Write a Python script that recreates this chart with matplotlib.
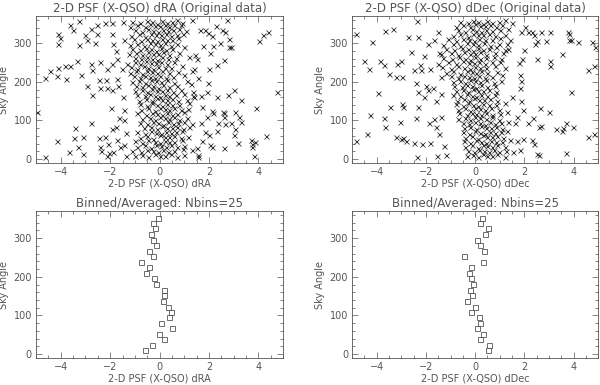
import numpy as np
import matplotlib
matplotlib.use('Agg')
import matplotlib.pyplot as plt
from matplotlib.ticker import MultipleLocator

# outliers, dRA panel
out_ra_x = [-4.95, -4.64, -4.64, -4.45, -4.17, -4.13, -3.82, -3.62, -3.77, -4.11, -4.02, -4.11, -4.15,
            -3.62, -3.52, -3.25, -3.36, -3.26, -3.17, -3.41, -3.47, -3.32, -3.68, -3.11, -3.08,
            -3.0, -2.95, -2.77, -2.95, -2.74, -2.77, -2.74, -2.78, -2.55, -2.61, -2.54, -2.40,
            -2.46, -2.43, -2.46, -2.43, -2.39, -2.21, -2.18, -2.13, -2.11, -2.22, -2.09, -2.05, -2.13,
            -1.91, -1.94, -1.88, -1.91, -1.92, -1.95, -1.90, -1.92, -1.77, -1.72, -1.72, -1.68, -1.64,
            -1.75, -1.71, -1.61, -1.47, -1.45, -1.54, -1.47, -1.42, -1.45, -1.34, -1.45, -1.36,
            1.30, 1.64, 1.83, 1.76, 1.96, 2.11, 2.16, 2.05, 2.01, 2.31, 2.28, 2.51, 2.46, 2.59, 2.66,
            2.73, 2.80, 2.82, 2.89, 1.43, 1.50, 1.39, 1.56, 1.34, 1.39, 1.69, 1.91, 1.96, 2.31, 2.78,
            3.01, 3.29, 1.73, 2.10, 2.18, 1.91, 1.66, 2.55, 2.59, 2.62, 3.03, 3.23, 3.28, 2.35, 2.65,
            2.89, 2.31, 3.03, 3.00, 3.19, 2.01, 2.10, 2.05, 1.73, 1.50, 1.56, 1.32, 1.56, 1.83, 2.62,
            3.71, 3.74, 3.85, 3.74, 3.81, 4.32, 3.91, 4.73, 4.01, 4.19, 4.39]
out_ra_y = [122, 6, 210, 229, 216, 236, 241, 240, 208, 325, 314, 299, 46,
            347, 335, 357, 254, 295, 217, 81, 54, 31, 18, 14, 56,
            322, 307, 337, 189, 230, 247, 166, 94, 346, 301, 324, 252,
            204, 184, 54, 32, 22, 352, 204, 234, 185, 58, 40, 16, 9,
            352, 325, 299, 246, 178, 132, 18, 77, 280, 260, 208, 189, 105,
            82, 49, 30, 356, 309, 234, 161, 127, 101, 68, 36, 8,
            359, 335, 334, 292, 327, 318, 294, 275, 234, 243, 344, 335, 301, 256, 328,
            359, 312, 290, 289, 269, 258, 234, 211, 174, 161, 163, 174, 197, 161, 166,
            178, 153, 135, 124, 120, 109, 94, 122, 120, 109, 122, 109, 97, 92, 91,
            94, 73, 77, 62, 41, 62, 32, 35, 47, 28, 10, 23, 6, 71, 28,
            49, 39, 45, 32, 9, 59, 133, 174, 306, 322, 329]

# dense core, dRA panel
core_ra_x = [-1.1, -0.8, -0.5, -0.3, -0.1, 0.1, 0.3, 0.5, 0.7, 0.9,
             -1.2, -0.9, -0.6, -0.4, -0.2, 0.0, 0.2, 0.4, 0.6, 0.85,
             -1.0, -0.7, -0.45, -0.25, -0.05, 0.15, 0.35, 0.55, 0.8, 1.05,
             -1.15, -0.85, -0.6, -0.35, -0.15, 0.05, 0.25, 0.45, 0.7, 0.95,
             -1.05, -0.75, -0.5, -0.3, -0.1, 0.1, 0.3, 0.5, 0.75,
             -1.2, -0.9, -0.65, -0.4, -0.2, 0.0, 0.2, 0.45, 0.7,
             -1.1, -0.8, -0.55, -0.35, -0.15, 0.05, 0.25, 0.5, 1.0,
             -1.25, -0.95, -0.7, -0.45, -0.25, -0.05, 0.15, 0.4, 0.8,
             -1.0, -0.75, -0.5, -0.3, -0.1, 0.1, 0.35, 0.65, 1.2,
             -1.3, -1.0, -0.8, -0.55, -0.35, -0.15, 0.05, 0.3, 0.6,
             -1.15, -0.9, -0.65, -0.45, -0.25, -0.05, 0.2, 0.45, 0.9,
             -1.2, -0.95, -0.7, -0.5, -0.3, -0.1, 0.1, 0.4, 0.75, 1.3,
             -1.05, -0.8, -0.6, -0.4, -0.2, 0.0, 0.25, 0.55, 1.0,
             -1.1, -0.85, -0.6, -0.35, -0.15, 0.05, 0.3, 0.6, 1.1,
             -0.95, -0.7, -0.45, -0.25, -0.05, 0.15, 0.4, 0.7, 1.25,
             -1.0, -0.7, -0.5, -0.3, -0.1, 0.1, 0.3, 0.55, 0.85,
             -0.9, -0.6, -0.4, -0.2, 0.0, 0.2, 0.4, 0.65, 1.0, 1.35,
             -0.85, -0.55, -0.3, -0.1, 0.1, 0.3, 0.5, 0.75, 1.1,
             -0.8, -0.5, -0.3, -0.1, 0.1, 0.3, 0.5, 0.8, 1.2,
             -0.75, -0.45, -0.2, 0.0, 0.2, 0.4, 0.6, 0.85, 1.15,
             -0.9, -0.55, -0.3, -0.1, 0.1, 0.3, 0.5, 0.7, 1.0,
             -0.7, -0.4, -0.2, 0.0, 0.2, 0.4, 0.6, 0.8, 1.1,
             -0.8, -0.5, -0.25, -0.05, 0.15, 0.35, 0.55, 0.75, 1.0, 1.3,
             -0.65, -0.35, -0.1, 0.1, 0.3, 0.5, 0.7, 0.95, 1.2,
             -0.9, -0.6, -0.35, -0.15, 0.05, 0.25, 0.45, 0.65, 0.9,
             -0.8, -0.5, -0.25, 0.0, 0.2, 0.4, 0.6, 0.85, 1.15,
             -1.0, -0.7, -0.45, -0.2, 0.0, 0.2, 0.4, 0.6, 0.9,
             -0.9, -0.6, -0.35, -0.15, 0.05, 0.25, 0.45, 0.7, 1.0,
             -1.1, -0.75, -0.5, -0.25, -0.05, 0.15, 0.35, 0.6, 0.95,
             -1.0, -0.7, -0.45, -0.2, 0.0, 0.2, 0.45, 0.7, 1.0]
core_ra_y = [356, 352, 358, 354, 351, 357, 353, 355, 359, 353,
             343, 347, 341, 349, 345, 344, 348, 342, 346, 347,
             334, 330, 336, 332, 329, 335, 331, 333, 337, 331,
             319, 323, 317, 325, 321, 320, 324, 318, 322, 323,
             310, 306, 312, 308, 305, 311, 307, 309, 313,
             295, 299, 293, 301, 297, 296, 300, 294, 298,
             286, 282, 288, 284, 281, 287, 283, 285, 289,
             271, 275, 269, 277, 273, 272, 276, 270, 274,
             262, 258, 264, 260, 257, 263, 259, 261, 265,
             247, 251, 245, 253, 249, 248, 252, 246, 250,
             238, 234, 240, 236, 233, 239, 235, 237, 241,
             223, 227, 221, 229, 225, 224, 228, 222, 226, 227,
             214, 210, 216, 212, 209, 215, 211, 213, 217,
             199, 203, 197, 205, 201, 200, 204, 198, 202,
             190, 186, 192, 188, 185, 191, 187, 189, 193,
             175, 179, 173, 181, 177, 176, 180, 174, 178,
             166, 162, 168, 164, 161, 167, 163, 165, 169, 163,
             151, 155, 149, 157, 153, 152, 156, 150, 154,
             142, 138, 144, 140, 137, 143, 139, 141, 145,
             127, 131, 125, 133, 129, 128, 132, 126, 130,
             118, 114, 120, 116, 113, 119, 115, 117, 121,
             103, 107, 101, 109, 105, 104, 108, 102, 106,
             94, 90, 96, 92, 89, 95, 91, 93, 97, 91,
             79, 83, 77, 85, 81, 80, 84, 78, 82,
             70, 66, 72, 68, 65, 71, 67, 69, 73,
             55, 59, 53, 61, 57, 56, 60, 54, 58,
             46, 42, 48, 44, 41, 47, 43, 45, 49,
             31, 35, 29, 37, 33, 32, 36, 30, 34,
             22, 18, 24, 20, 17, 23, 19, 21, 25,
             7, 11, 5, 13, 9, 8, 12, 6, 10]

# outliers, dDec panel
out_dec_x = [-4.85, -4.85, -4.54, -4.31, -4.29, -4.18, -4.39, -3.95, -3.89, -3.70, -3.65, -3.35,
             -3.48, -3.70, -3.67, -3.50, -3.22, -2.99, -3.16, -3.02, -3.07, -2.99, -2.94, -3.22,
             -3.02, -2.82, -2.93, -2.72, -2.59, -2.48, -2.34, -2.38, -2.41, -2.34, -2.34, -2.41,
             -2.48, -2.38, -2.26, -2.20, -2.16, -2.07, -2.07, -2.00, -1.90, -1.82, -1.90, -1.86,
             -1.85, -1.66, -1.73, -1.59, -1.66, -1.59, -1.55, -1.50, -1.46, -1.39, -1.41, -1.39,
             -1.46, -1.28, -1.17,
             1.33, 1.50, 1.77, 1.81, 1.81, 1.88, 1.85, 1.95, 1.85, 2.01, 2.15, 2.29, 2.38, 2.42,
             2.50, 2.69, 2.87, 3.06, 1.90, 1.97, 1.69, 1.63, 2.15, 2.33, 2.65, 2.58, 2.69, 2.50,
             3.04, 3.04, 3.51, 3.78, 3.82, 3.91, 4.19, 3.82, 2.50, 2.58, 2.99, 3.28, 3.55, 3.52,
             3.71, 3.96, 3.89, 3.69, 1.95, 2.29, 2.39, 1.70, 1.81, 1.54, 4.73, 4.87, 4.57, 4.82,
             4.60, 4.83]
out_dec_y = [325, 47, 253, 232, 114, 303, 64, 172, 254, 244, 331, 338,
             134, 105, 84, 220, 213, 213, 247, 253, 97, 142, 135, 56,
             53, 46, 54, 315, 276, 230, 316, 358, 196, 174, 135, 107,
             41, 6, 244, 230, 39, 266, 161, 189, 299, 234, 180, 92,
             42, 308, 185, 149, 104, 82, 9, 329, 275, 213, 168, 108,
             66, 34, 10,
             286, 161, 249, 217, 183, 203, 150, 127, 329, 342, 329, 328, 321, 299,
             306, 329, 305, 329, 260, 282, 109, 92, 94, 105, 131, 84, 86, 258,
             253, 241, 273, 329, 325, 308, 303, 308, 13, 10, 122, 77, 79, 73,
             93, 84, 174, 16, 51, 49, 39, 46, 23, 18, 303, 289, 230, 241,
             56, 66]

# dense core, dDec panel
core_dec_x = [-0.6, -0.3, -0.1, 0.1, 0.3, 0.5, 0.7, 0.95, 1.2, 1.5,
              -0.8, -0.5, -0.2, 0.0, 0.2, 0.4, 0.6, 0.85, 1.1,
              -0.7, -0.4, -0.15, 0.05, 0.25, 0.45, 0.7, 1.0, 1.35,
              -0.9, -0.6, -0.3, -0.1, 0.1, 0.3, 0.55, 0.8, 1.2,
              -1.1, -0.8, -0.5, -0.25, -0.05, 0.15, 0.4, 0.7, 1.0, 1.4,
              -1.3, -0.9, -0.6, -0.35, -0.1, 0.1, 0.35, 0.6, 0.95, 1.3,
              -1.2, -0.85, -0.55, -0.3, -0.1, 0.1, 0.3, 0.55, 0.85, 1.2,
              -1.4, -1.0, -0.7, -0.45, -0.2, 0.0, 0.2, 0.45, 0.8, 1.15,
              -1.3, -0.95, -0.65, -0.4, -0.2, 0.0, 0.2, 0.45, 0.75, 1.05,
              -1.5, -1.1, -0.8, -0.5, -0.25, -0.05, 0.15, 0.4, 0.7, 1.0,
              -1.35, -1.0, -0.7, -0.45, -0.2, 0.0, 0.2, 0.45, 0.8, 1.2,
              -1.2, -0.9, -0.6, -0.35, -0.15, 0.05, 0.25, 0.5, 0.9,
              -1.0, -0.7, -0.45, -0.25, -0.05, 0.15, 0.4, 0.7, 1.1,
              -0.9, -0.6, -0.4, -0.2, 0.0, 0.2, 0.45, 0.75, 1.05,
              -0.85, -0.55, -0.35, -0.15, 0.05, 0.25, 0.5, 0.8,
              -0.8, -0.5, -0.3, -0.1, 0.1, 0.3, 0.55, 0.85,
              -0.9, -0.6, -0.35, -0.15, 0.05, 0.25, 0.5, 0.8,
              -0.75, -0.45, -0.25, -0.05, 0.15, 0.35, 0.6, 0.9,
              -0.8, -0.5, -0.3, -0.1, 0.1, 0.3, 0.55, 0.85, 1.2,
              -0.7, -0.4, -0.2, 0.0, 0.2, 0.4, 0.65, 0.95,
              -0.65, -0.35, -0.15, 0.05, 0.25, 0.45, 0.7, 1.0, 1.3,
              -0.7, -0.4, -0.2, 0.0, 0.2, 0.45, 0.7, 0.95,
              -0.5, -0.25, 0.0, 0.2, 0.4, 0.6, 0.8, 1.05, 1.35,
              -0.45, -0.2, 0.05, 0.25, 0.45, 0.65, 0.85, 1.1,
              -0.5, -0.25, 0.0, 0.2, 0.4, 0.6, 0.8, 1.05, 1.3,
              -0.4, -0.15, 0.1, 0.3, 0.5, 0.7, 0.9, 1.15,
              -0.45, -0.2, 0.05, 0.25, 0.45, 0.65, 0.85, 1.1, 1.4,
              -0.4, -0.15, 0.1, 0.3, 0.5, 0.7, 0.9, 1.2,
              -0.3, -0.05, 0.15, 0.35, 0.55, 0.75, 0.95, 1.25,
              -0.35, -0.1, 0.1, 0.3, 0.5, 0.7, 0.9, 1.2]
core_dec_y = [356, 352, 358, 354, 351, 357, 353, 355, 359, 353,
              343, 347, 341, 349, 345, 344, 348, 342, 346,
              334, 330, 336, 332, 329, 335, 331, 333, 337,
              319, 323, 317, 325, 321, 320, 324, 318, 322,
              310, 306, 312, 308, 305, 311, 307, 309, 313, 307,
              295, 299, 293, 301, 297, 296, 300, 294, 298, 299,
              286, 282, 288, 284, 281, 287, 283, 285, 289, 283,
              271, 275, 269, 277, 273, 272, 276, 270, 274, 275,
              262, 258, 264, 260, 257, 263, 259, 261, 265, 259,
              247, 251, 245, 253, 249, 248, 252, 246, 250, 251,
              238, 234, 240, 236, 233, 239, 235, 237, 241, 235,
              223, 227, 221, 229, 225, 224, 228, 222, 226,
              214, 210, 216, 212, 209, 215, 211, 213, 217,
              199, 203, 197, 205, 201, 200, 204, 198, 202,
              190, 186, 192, 188, 185, 191, 187, 189,
              175, 179, 173, 181, 177, 176, 180, 174,
              166, 162, 168, 164, 161, 167, 163, 165,
              151, 155, 149, 157, 153, 152, 156, 150,
              142, 138, 144, 140, 137, 143, 139, 141, 145,
              127, 131, 125, 133, 129, 128, 132, 126,
              118, 114, 120, 116, 113, 119, 115, 117, 121,
              103, 107, 101, 109, 105, 104, 108, 102,
              94, 90, 96, 92, 89, 95, 91, 93, 97,
              79, 83, 77, 85, 81, 80, 84, 78,
              70, 66, 72, 68, 65, 71, 67, 69, 73,
              55, 59, 53, 61, 57, 56, 60, 54,
              46, 42, 48, 44, 41, 47, 43, 45, 49,
              31, 35, 29, 37, 33, 32, 36, 30,
              22, 18, 24, 20, 17, 23, 19, 21,
              7, 11, 5, 13, 9, 8, 12, 6]

# binned / averaged (25 bins)
bin_angle = [10, 23, 38, 51, 67, 80, 95, 108, 123, 137, 154, 166, 181,
             196, 210, 225, 238, 253, 266, 282, 296, 310, 325, 339, 353]
bin_ra = [-0.58, -0.32, 0.18, -0.03, 0.51, 0.06, 0.37, 0.46, 0.36, 0.14, 0.18, 0.19, -0.15,
          -0.21, -0.57, -0.44, -0.77, -0.28, -0.44, -0.15, -0.26, -0.36, -0.17, -0.25, -0.07]
bin_dec = [0.54, 0.58, 0.21, 0.30, 0.07, 0.19, 0.17, -0.16, -0.01, -0.32, -0.13, -0.20, -0.07,
           -0.19, -0.24, -0.19, 0.30, -0.47, 0.34, 0.19, 0.09, 0.38, 0.54, 0.21, 0.27]

gris = '#555555'
plt.rcParams['font.family'] = 'DejaVu Sans'

fig = plt.figure(figsize=(6, 3.85), dpi=100)
ax1 = fig.add_axes([0.06, 0.577, 0.412, 0.381])
ax2 = fig.add_axes([0.587, 0.577, 0.410, 0.381])
ax3 = fig.add_axes([0.06, 0.070, 0.412, 0.382])
ax4 = fig.add_axes([0.587, 0.070, 0.410, 0.382])

ra_x = np.concatenate([out_ra_x, core_ra_x])
ra_y = np.concatenate([out_ra_y, core_ra_y])
dec_x = np.concatenate([out_dec_x, core_dec_x])
dec_y = np.concatenate([out_dec_y, core_dec_y])

ax1.plot(ra_x, ra_y, 'x', ms=3.6, mew=0.6, color='#333333')
ax2.plot(dec_x, dec_y, 'x', ms=3.6, mew=0.6, color='#333333')
ax3.plot(bin_ra, bin_angle, 's', ms=3.6, mew=0.6, mfc='none', mec=gris)
ax4.plot(bin_dec, bin_angle, 's', ms=3.6, mew=0.6, mfc='none', mec=gris)

titulos = ['2-D PSF (X-QSO) dRA (Original data)', '2-D PSF (X-QSO) dDec (Original data)',
           'Binned/Averaged: Nbins=25', 'Binned/Averaged: Nbins=25']
etiquetas = ['2-D PSF (X-QSO) dRA', '2-D PSF (X-QSO) dDec',
             '2-D PSF (X-QSO) dRA', '2-D PSF (X-QSO) dDec']

for ax, tit, et in zip([ax1, ax2, ax3, ax4], titulos, etiquetas):
    ax.set_xlim(-5, 5)
    ax.set_ylim(-10, 370)
    ax.set_title(tit, fontsize=8.5, color=gris, pad=3)
    ax.set_xlabel(et, fontsize=7, color=gris, labelpad=1)
    ax.set_ylabel('Sky Angle', fontsize=7, color=gris, labelpad=3)
    ax.xaxis.set_major_locator(MultipleLocator(2))
    ax.xaxis.set_minor_locator(MultipleLocator(0.5))
    ax.yaxis.set_major_locator(MultipleLocator(100))
    ax.yaxis.set_minor_locator(MultipleLocator(20))
    ax.tick_params(which='both', direction='in', top=True, right=True,
                   color=gris, labelcolor=gris, labelsize=7, width=0.5)
    ax.tick_params(which='major', length=4, pad=3)
    ax.tick_params(which='minor', length=2)
    for s in ax.spines.values():
        s.set_color(gris)
        s.set_linewidth(0.6)

plt.savefig('out.png', dpi=100)
